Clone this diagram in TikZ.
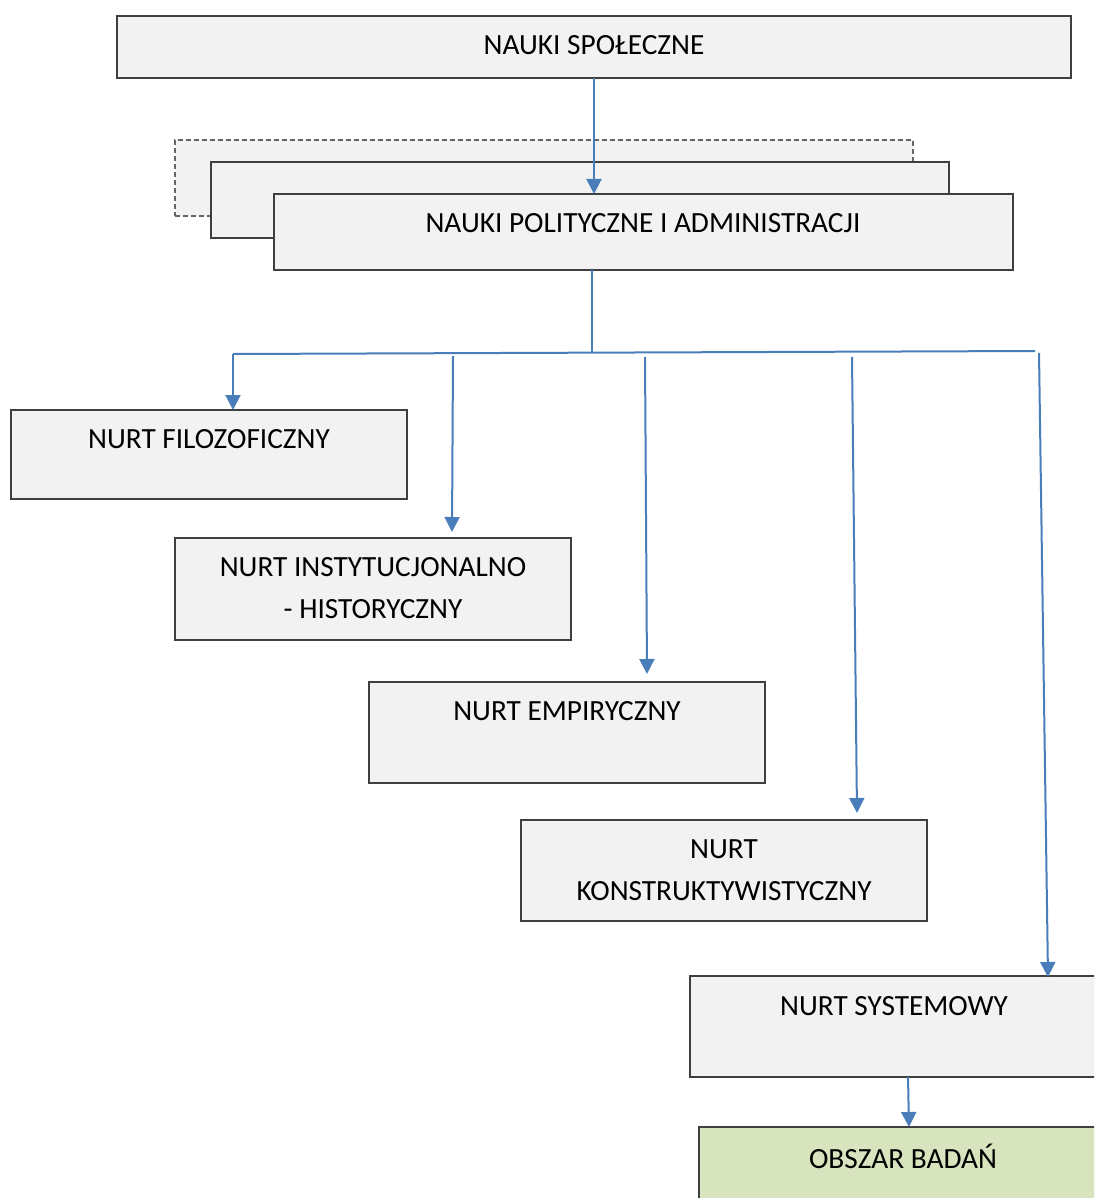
\documentclass[tikz,border=0pt]{standalone}
\usepackage{fontspec}
\setmainfont{Carlito}
\usetikzlibrary{arrows.meta,fit}
\definecolor{boxfill}{HTML}{F2F2F2}
\definecolor{boxline}{HTML}{3F3F3F}
\definecolor{greenfill}{HTML}{D7E4BD}
\definecolor{linkblue}{HTML}{4A7EBB}
\begin{document}
\begin{tikzpicture}[x=1pt,y=-1pt,
  box/.style={draw=boxline,fill=boxfill,line width=1.2pt,inner sep=0pt,rectangle},
  ghost/.style={box,dashed,dash pattern=on 5pt off 3pt,draw=boxline!80},
  greenbox/.style={box,fill=greenfill},
  txt/.style={inner sep=0pt,align=center,font=\fontsize{29.3}{42}\selectfont,text=black},
  link/.style={draw=linkblue,line width=2pt},
  arr/.style={link,-{Triangle[width=15pt,length=15pt]}}]
\clip (0,0) rectangle (1094,1198);
\fill[white] (0,0) rectangle (1094,1198);

% top level
\node[box,fit={(117,16) (1071,78)}] (spol) {};
\node[txt] (spol-t) at (594,45) {NAUKI SPOŁECZNE};

% stacked discipline boxes
\node[ghost,fit={(175,140) (913,216)}] (stackA) {};
\node[box,fit={(211,162) (949,238)}] (stackB) {};
\node[box,fit={(274,194) (1013,270)}] (pol) {};
\node[txt] (pol-t) at (643,223) {NAUKI POLITYCZNE I ADMINISTRACJI};

% research currents
\node[box,fit={(11,410) (407,499)}] (filo) {};
\node[txt] (filo-t) at (209,439) {NURT FILOZOFICZNY};
\node[box,fit={(175,538) (571,640)}] (inst) {};
\node[txt] (inst-t) at (373,588) {NURT INSTYTUCJONALNO\\- HISTORYCZNY};
\node[box,fit={(369,682) (765,783)}] (emp) {};
\node[txt] (emp-t) at (567,711) {NURT EMPIRYCZNY};
\node[box,fit={(521,820) (927,921)}] (kons) {};
\node[txt] (kons-t) at (724,870) {NURT\\KONSTRUKTYWISTYCZNY};
\node[box,fit={(690,976) (1100,1077)}] (sys) {};
\node[txt] (sys-t) at (894,1006) {NURT SYSTEMOWY};
\node[greenbox,fit={(699,1127) (1110,1210)}] (obs) {};
\node[txt] (obs-t) at (903,1156) {OBSZAR BADAŃ};

% connector points
\coordinate (s1) at (594,78);
\coordinate (p1) at (594,194);
\coordinate (p2) at (592,270);
\coordinate (hub) at (592,352.5);
\coordinate (busL) at (233,354);
\coordinate (busR) at (1035,351);
\coordinate (b2) at (453,356);
\coordinate (b3) at (645,357);
\coordinate (b4) at (852,357);
\coordinate (b5) at (1039,353);
\coordinate (t1) at (233,410);
\coordinate (t2) at (452,532);
\coordinate (t3) at (647,674);
\coordinate (t4) at (857,813);
\coordinate (t5) at (1048,977);
\coordinate (sysb) at (908,1077);
\coordinate (t6) at (909,1127);

% connectors
\draw[arr] (s1) -- (p1);
\draw[link] (p2) -- (hub);
\draw[link] (busL) -- (busR);
\draw[arr] (busL) -- (t1);
\draw[arr] (b2) -- (t2);
\draw[arr] (b3) -- (t3);
\draw[arr] (b4) -- (t4);
\draw[arr] (b5) -- (t5);
\draw[arr] (sysb) -- (t6);
\end{tikzpicture}
\end{document}
